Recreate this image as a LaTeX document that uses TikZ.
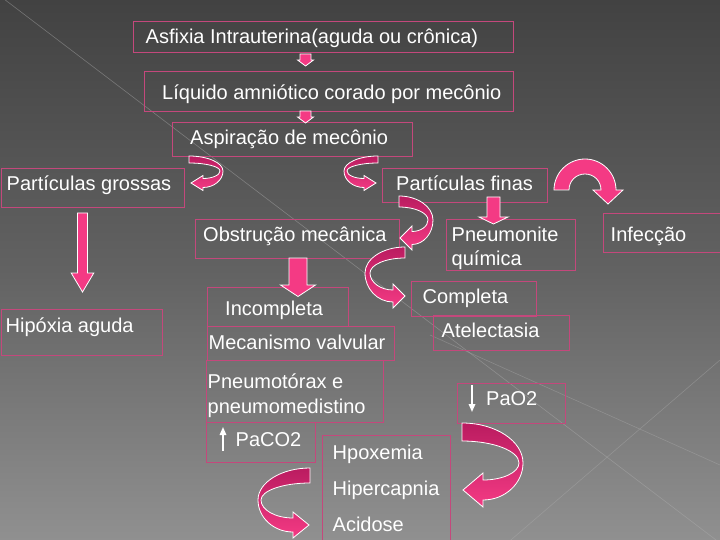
\documentclass[tikz,border=0pt]{standalone}
\usepackage{fontspec}
\setmainfont{Liberation Sans}
\usetikzlibrary{arrows.meta}
\definecolor{bgtop}{RGB}{66,66,66}
\definecolor{bgmid}{RGB}{98,98,98}
\definecolor{bgbot}{RGB}{144,144,144}
\definecolor{boxline}{RGB}{196,72,124}
\definecolor{pinkA}{RGB}{244,58,132}
\definecolor{pinkD}{RGB}{186,28,96}
\definecolor{decoline}{RGB}{175,175,175}
\tikzset{
  box/.style={draw=boxline, line width=1.3pt, rectangle, inner sep=0pt, anchor=north west},
  txt/.style={text=white, inner sep=0pt, anchor=base west, font=\fontsize{20}{24}\selectfont},
  blockarr/.style={fill=pinkA, draw=white, line width=0.8pt, line join=miter},
  curvedarr/.style={draw=white, line width=0.8pt, top color=pinkD, bottom color=pinkA},
  thinarr/.style={draw=white, line width=1.6pt, -{Triangle[width=6.5pt,length=8pt]}},
}
% straight block arrow pointing down: cx, top y, head base y, shaft half, head half, tip y
\newcommand{\blockdown}[6]{%
  \path[blockarr] (#1-#4,#2) -- (#1+#4,#2) -- (#1+#4,#3) -- (#1+#5,#3) -- (#1,#6)
     -- (#1-#5,#3) -- (#1-#4,#3) -- cycle;}
% C-shaped curved arrow: x0, ytop, start width, outer extreme x, extreme y, side width, head base x, tip y, tip x
% uses \cahh (head half height) and \cawb (band half width at head)
\newcommand{\curvarrow}[9]{%
  \pgfmathsetmacro{\caD}{sign(#4-#1)}%
  \pgfmathsetmacro{\caXi}{#4-\caD*#6}%
  \pgfmathsetmacro{\caLy}{#8+\cawb}%
  \pgfmathsetmacro{\caUy}{#8-\cawb}%
  \pgfmathsetmacro{\caTy}{#2+#3}%
  \pgfmathsetmacro{\caHa}{#8-\cahh}%
  \pgfmathsetmacro{\caHb}{#8+\cahh}%
  \pgfmathsetmacro{\caA}{#1+0.55*(#4-#1)}%
  \pgfmathsetmacro{\caB}{#5-0.55*(#5-#2)}%
  \pgfmathsetmacro{\caC}{#5+0.55*(\caLy-#5)}%
  \pgfmathsetmacro{\caE}{#7+0.55*(#4-#7)}%
  \pgfmathsetmacro{\caF}{#7+0.55*(\caXi-#7)}%
  \pgfmathsetmacro{\caG}{#5+0.55*(\caUy-#5)}%
  \pgfmathsetmacro{\caH}{#5-0.55*(#5-\caTy)}%
  \pgfmathsetmacro{\caI}{#1+0.55*(\caXi-#1)}%
  \path[curvedarr] (#1,#2) .. controls (\caA,#2) and (#4,\caB) .. (#4,#5)
     .. controls (#4,\caC) and (\caE,\caLy) .. (#7,\caLy) -- (#7,\caHb) -- (#9,#8)
     -- (#7,\caHa) -- (#7,\caUy) .. controls (\caF,\caUy) and (\caXi,\caG) .. (\caXi,#5)
     .. controls (\caXi,\caH) and (\caI,\caTy) .. (#1,\caTy) -- cycle;}
\begin{document}
\begin{tikzpicture}[x=1pt,y=-1pt]
\useasboundingbox (0,0) rectangle (720,540);
% background
\shade[top color=bgtop, bottom color=bgbot, middle color=bgmid] (0,0) rectangle (720,540);
\draw[decoline, line width=0.6pt, opacity=0.45] (0,-4) -- (720,543);
\draw[decoline, line width=0.6pt, opacity=0.4] (430,335) -- (720,465);
\draw[decoline, line width=0.6pt, opacity=0.4] (505,545) -- (720,360);

% boxes
\node[box, minimum width=380pt, minimum height=31pt] (b1) at (133,21) {};
\node[box, minimum width=369pt, minimum height=40pt] (b2) at (144,71) {};
\node[box, minimum width=240pt, minimum height=34pt] (b3) at (172,122) {};
\node[box, minimum width=183pt, minimum height=39pt] (b4) at (1,168) {};
\node[box, minimum width=165pt, minimum height=34pt] (b5) at (382,168) {};
\node[box, minimum width=204pt, minimum height=39pt] (b6) at (195,219) {};
\node[box, minimum width=129pt, minimum height=51pt] (b7) at (446,219) {};
\node[box, minimum width=122pt, minimum height=39pt] (b8) at (603,213) {};
\node[box, minimum width=161pt, minimum height=46pt] (b9) at (1,309) {};
\node[box, minimum width=141pt, minimum height=39pt] (b10) at (207,287) {};
\node[box, minimum width=187pt, minimum height=34pt] (b11) at (207,326) {};
\node[box, minimum width=125pt, minimum height=35pt] (b12) at (411,281) {};
\node[box, minimum width=136pt, minimum height=35pt] (b13) at (433,315) {};
\node[box, minimum width=177pt, minimum height=62pt] (b14) at (206,360) {};
\node[box, minimum width=109pt, minimum height=40pt] (b15) at (206,422) {};
\node[box, minimum width=128pt, minimum height=112pt] (b16) at (322,435) {};
\node[box, minimum width=108pt, minimum height=40pt] (b17) at (457,383) {};

% texts
\node[txt] (t1) at (145.5,44) {Asfixia Intrauterina(aguda ou crônica)};
\node[txt] (t2) at (162,100) {Líquido amniótico corado por mecônio};
\node[txt] (t3) at (190,145) {Aspiração de mecônio};
\node[txt] (t4) at (6.5,190.5) {Partículas grossas};
\node[txt] (t5) at (396,190.5) {Partículas finas};
\node[txt] (t6) at (203,241.5) {Obstrução mecânica};
\node[txt] (t7a) at (451.5,241.5) {Pneumonite};
\node[txt] (t7b) at (451.5,265.5) {química};
\node[txt] (t8) at (610.5,241.5) {Infecção};
\node[txt] (t9) at (5.5,332.5) {Hipóxia aguda};
\node[txt] (t10) at (225,315.5) {Incompleta};
\node[txt] (t11) at (208.5,349.5) {Mecanismo valvular};
\node[txt] (t12) at (422.5,303) {Completa};
\node[txt] (t13) at (441.5,337) {Atelectasia};
\node[txt] (t14a) at (207.5,388.5) {Pneumotórax e};
\node[txt] (t14b) at (207.5,413.5) {pneumomedistino};
\node[txt] (t15) at (235.5,446) {PaCO2};
\node[txt] (t16a) at (332.5,459.5) {Hpoxemia};
\node[txt] (t16b) at (332.5,495.5) {Hipercapnia};
\node[txt] (t16c) at (332.5,531.5) {Acidose};
\node[txt] (t17) at (486,405) {PaO2};

% small up/down arrows in PaCO2 / PaO2
\coordinate (up0) at (223,451);
\coordinate (up1) at (223,427);
\draw[thinarr] (up0) -- (up1);
\coordinate (dn0) at (472,385);
\coordinate (dn1) at (472,412);
\draw[thinarr] (dn0) -- (dn1);

% straight block arrows
\blockdown{305.5}{54}{60}{5.5}{8}{66}
\blockdown{305.5}{111}{117}{5.5}{8}{123}
\blockdown{82.5}{213}{273}{5}{11.3}{292}
\blockdown{298}{258}{285}{9}{17.5}{296.5}
\blockdown{493.5}{197}{217}{6.5}{14.5}{224}

% curved arrows
\def\cahh{7.5}\def\cawb{4.5}
\curvarrow{189}{156}{7}{223}{171}{3}{203}{183}{191}
\curvarrow{378}{156}{7}{344}{171}{3}{364}{183}{376}
\def\cahh{12}\def\cawb{6.5}
\curvarrow{399}{196}{11}{433}{220}{5}{412}{238}{400}
\def\cahh{12}\def\cawb{6}
\curvarrow{405}{247}{11}{365}{273}{5}{393}{296}{405}
\def\cahh{17}\def\cawb{10}
\curvarrow{462}{423}{18}{523}{463}{4}{483}{490}{463}
\def\cahh{13}\def\cawb{7}
\curvarrow{310}{468}{15}{258}{500}{3}{293}{525}{309}

% arc arrow to Infeccao
\path[blockarr] (554,190) .. controls (554,173) and (568,159) .. (585,159)
   .. controls (602,159) and (616,173) .. (616,190) -- (623,190) -- (608,204) -- (593,190)
   -- (601,190) .. controls (601,181) and (594,174) .. (585,174)
   .. controls (576,174) and (569,181) .. (569,190) -- cycle;
\end{tikzpicture}
\end{document}
